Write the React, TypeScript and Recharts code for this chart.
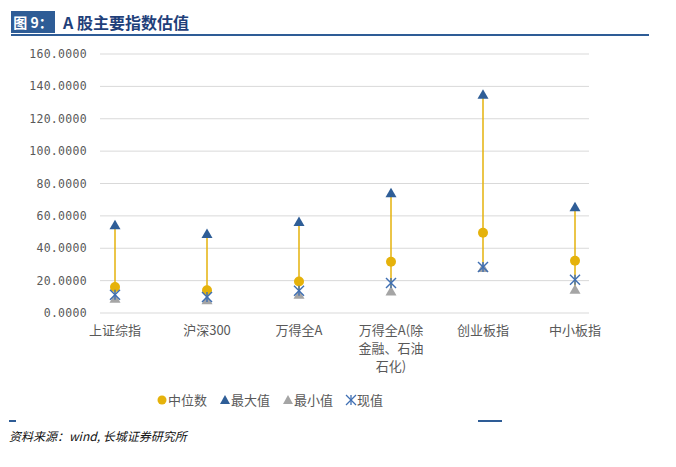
import { LineChart, Line, XAxis, YAxis, CartesianGrid, ErrorBar } from "recharts";

const categories = ["上证综指", "沪深300", "万得全A", "万得全A(除\n金融、石油\n石化)", "创业板指", "中小板指"];
const medianValues = [16.0, 14.0, 19.5, 31.7, 49.6, 32.3];
const maxValues = [54.2, 48.8, 56.2, 74.0, 134.8, 65.4];
const minValues = [8.8, 7.8, 11.3, 13.3, 27.8, 14.4];
const currentValues = [11.3, 9.9, 13.8, 18.5, 28.4, 20.6];
const yTicks = [0, 20, 40, 60, 80, 100, 120, 140, 160];

const YELLOW = "#E5B20B";
const NAVY = "#2F5E97";
const GRAY = "#A5A5A5";
const STAR = "#3F6FB3";
const TEXT = "#595959";
const CJK = '"Noto Sans CJK SC", "Noto Sans", sans-serif';

const chartData = categories.map((name, i) => ({
  name,
  median: medianValues[i],
  max: maxValues[i],
  min: minValues[i],
  current: currentValues[i],
  range: [medianValues[i] - minValues[i], maxValues[i] - medianValues[i]],
}));

const Circle = ({ cx, cy }: any) => <circle cx={cx} cy={cy} r={5} fill={YELLOW} />;

const Triangle = (color: string) => ({ cx, cy }: any) => (
  <path d={`M${cx},${cy - 5.5}L${cx + 5.5},${cy + 4}L${cx - 5.5},${cy + 4}Z`} fill={color} />
);

const Star = ({ cx, cy }: any) => (
  <g stroke={STAR} strokeWidth={1.4}>
    <line x1={cx - 5} y1={cy - 5} x2={cx + 5} y2={cy + 5} />
    <line x1={cx - 5} y1={cy + 5} x2={cx + 5} y2={cy - 5} />
    <line x1={cx} y1={cy - 5} x2={cx} y2={cy + 5} />
  </g>
);

const CategoryTick = ({ x, y, payload }: any) => {
  const lines = String(payload.value).split("\n");
  return (
    <text x={x} y={y} textAnchor="middle" fill={TEXT} fontSize={13} fontFamily={CJK}>
      {lines.map((l, i) => (
        <tspan key={i} x={x} dy={i === 0 ? 14 : 18}>
          {l}
        </tspan>
      ))}
    </text>
  );
};

const legendItems = [
  { label: "中位数", icon: <circle cx={6} cy={7} r={4.5} fill={YELLOW} /> },
  { label: "最大值", icon: <path d="M6,2L11,11L1,11Z" fill={NAVY} /> },
  { label: "最小值", icon: <path d="M6,2L11,11L1,11Z" fill={GRAY} /> },
  {
    label: "现值",
    icon: (
      <g stroke={STAR} strokeWidth={1.3}>
        <line x1={1} y1={2} x2={11} y2={12} />
        <line x1={1} y1={12} x2={11} y2={2} />
        <line x1={6} y1={2} x2={6} y2={12} />
      </g>
    ),
  },
];

export default function App() {
  return (
    <div style={{ position: "absolute", left: 0, top: 0, width: 676, height: 467, background: "#fff" }}>
      <div
        style={{
          position: "absolute", left: 11, top: 11, width: 44, height: 22, background: "#2E5C96",
          color: "#fff", fontFamily: CJK, fontWeight: 700, fontSize: 14, lineHeight: "22px", textAlign: "center",
        }}
      >
        图 9：
      </div>
      <div
        style={{
          position: "absolute", left: 63, top: 11, color: "#1F3F7A", fontFamily: CJK, fontWeight: 700,
          fontSize: 16, lineHeight: "22px",
        }}
      >
        A 股主要指数估值
      </div>
      <div style={{ position: "absolute", left: 11, top: 34, width: 638, height: 2, background: "#2E5C96" }} />

      <LineChart
        width={676}
        height={467}
        data={chartData}
        margin={{ top: 54, right: 87, bottom: 94, left: 10 }}
      >
        <CartesianGrid vertical={false} stroke="#D9D9D9" />
        <XAxis
          dataKey="name"
          axisLine={false}
          tickLine={false}
          padding={{ left: 15, right: 14 }}
          height={60}
          interval={0}
          tick={<CategoryTick />}
        />
        <YAxis
          width={90}
          domain={[0, 160]}
          ticks={yTicks}
          axisLine={false}
          tickLine={false}
          tickSize={0}
          tickMargin={13}
          tickFormatter={(v: number) => v.toFixed(4)}
          tick={{ fill: TEXT, fontSize: 11.5, fontFamily: '"DejaVu Sans Mono", monospace', letterSpacing: 0.3 }}
        />
        <Line
          dataKey="median"
          name="中位数"
          stroke="none"
          dot={<Circle />}
          activeDot={false}
          isAnimationActive={false}
        >
          <ErrorBar dataKey="range" width={0} stroke={YELLOW} strokeWidth={1.5} direction="y" />
        </Line>
        <Line dataKey="max" name="最大值" stroke="none" dot={Triangle(NAVY)} activeDot={false} isAnimationActive={false} />
        <Line dataKey="min" name="最小值" stroke="none" dot={Triangle(GRAY)} activeDot={false} isAnimationActive={false} />
        <Line dataKey="current" name="现值" stroke="none" dot={<Star />} activeDot={false} isAnimationActive={false} />
      </LineChart>

      <div
        style={{
          position: "absolute", left: 156, top: 391, display: "flex", gap: 12, fontFamily: CJK, fontSize: 13,
          color: TEXT, whiteSpace: "nowrap", lineHeight: "18px",
        }}
      >
        {legendItems.map((item) => (
          <div key={item.label} style={{ display: "flex", alignItems: "center" }}>
            <svg width={12} height={14}>{item.icon}</svg>
            <span>{item.label}</span>
          </div>
        ))}
      </div>

      <div style={{ position: "absolute", left: 9, top: 420, width: 7, height: 1.5, background: "#2E5C96" }} />
      <div style={{ position: "absolute", left: 478, top: 420, width: 24, height: 1.5, background: "#2E5C96" }} />
      <div
        style={{
          position: "absolute", left: 9, top: 428, fontFamily: CJK, fontStyle: "italic", fontSize: 12,
          color: "#111", lineHeight: "16px",
        }}
      >
        资料来源：wind, 长城证券研究所
      </div>
    </div>
  );
}
